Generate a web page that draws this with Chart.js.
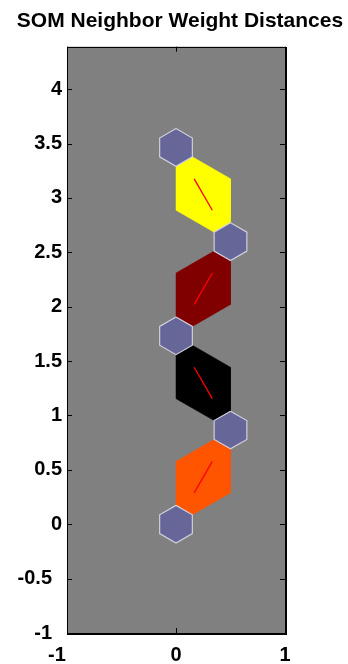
<!DOCTYPE html>
<html>
<head>
<meta charset="utf-8">
<script src="https://cdn.jsdelivr.net/npm/chart.js@4.4.0/dist/chart.umd.min.js"></script>
<style>
    html, body { margin: 0; padding: 0; background: #ffffff; }
    canvas { display: block; }
</style>
</head>
<body>
<canvas id="somChart" width="348" height="664"></canvas>
<script>
// ========================================
// SOM neighbor weight distances (hextop 1x5)
// ========================================

// neuron positions
const neuronX = [0, 0.5, 0, 0.5, 0];
const neuronY = [0, 0.866, 1.732, 2.598, 3.464];

// neighbor links and their distance colours
const linkFrom = [0, 1, 2, 3];
const linkTo = [1, 2, 3, 4];
const linkColors = ['#ff5500', '#000000', '#800000', '#ffff00'];

// axis ticks
const xTicks = [-1, 0, 1];
const yTicks = [-1, -0.5, 0, 0.5, 1, 1.5, 2, 2.5, 3, 3.5, 4];

const NEURON_R = 0.3 / Math.sqrt(3);

function polar(cx, cy, r, deg) {
    const a = deg * Math.PI / 180;
    return { x: cx + r * Math.cos(a), y: cy + r * Math.sin(a) };
}

function neuronHex(i) {
    return [90, 30, -30, -90, -150, 150, 90].map(a => polar(neuronX[i], neuronY[i], NEURON_R, a));
}

function linkPatch(i, j) {
    const dx = neuronX[j] - neuronX[i];
    const dy = neuronY[j] - neuronY[i];
    const th = Math.atan2(dy, dx) * 180 / Math.PI;
    const mx = (neuronX[i] + neuronX[j]) / 2;
    const my = (neuronY[i] + neuronY[j]) / 2;
    const side = Math.hypot(dx, dy) / 2 / Math.sqrt(3);
    const pts = [
        polar(neuronX[i], neuronY[i], NEURON_R, th - 30),
        polar(neuronX[i], neuronY[i], NEURON_R, th + 30),
        polar(mx, my, side, th + 90),
        polar(neuronX[j], neuronY[j], NEURON_R, th + 150),
        polar(neuronX[j], neuronY[j], NEURON_R, th + 210),
        polar(mx, my, side, th - 90)
    ];
    pts.push(pts[0]);
    return pts;
}

function linkLine(i, j) {
    const dx = neuronX[j] - neuronX[i];
    const dy = neuronY[j] - neuronY[i];
    return [
        { x: neuronX[i] + dx / 3, y: neuronY[i] + dy / 3 },
        { x: neuronX[i] + dx * 2 / 3, y: neuronY[i] + dy * 2 / 3 }
    ];
}

const datasets = [];

// 距離色塊
linkFrom.forEach((i, k) => {
    datasets.push({
        data: linkPatch(i, linkTo[k]),
        borderColor: linkColors[k],
        backgroundColor: linkColors[k],
        borderWidth: 0.5,
        fill: 'shape',
        pointRadius: 0,
        tension: 0,
        order: 3
    });
});

// 紅線
linkFrom.forEach((i, k) => {
    datasets.push({
        data: linkLine(i, linkTo[k]),
        borderColor: '#ff0000',
        borderWidth: 1.3,
        fill: false,
        pointRadius: 0,
        order: 2
    });
});

// 神經元
neuronX.forEach((_, i) => {
    datasets.push({
        data: neuronHex(i),
        borderColor: '#cfcfdc',
        backgroundColor: '#666699',
        borderWidth: 1.2,
        fill: 'shape',
        pointRadius: 0,
        tension: 0,
        order: 1
    });
});

const framePlugin = {
    id: 'frame',
    beforeDraw(chart) {
        const { ctx, chartArea: a } = chart;
        ctx.save();
        ctx.fillStyle = '#808080';
        ctx.fillRect(a.left, a.top, a.right - a.left, a.bottom - a.top);
        ctx.restore();
    },
    afterDraw(chart) {
        const { ctx, chartArea: a, scales } = chart;
        ctx.save();
        ctx.strokeStyle = '#000000';
        ctx.lineWidth = 1;
        ctx.beginPath();
        scales.x.ticks.forEach(t => {
            const px = Math.round(scales.x.getPixelForValue(t.value)) + 0.5;
            ctx.moveTo(px, a.bottom); ctx.lineTo(px, a.bottom - 5);
            ctx.moveTo(px, a.top); ctx.lineTo(px, a.top + 5);
        });
        scales.y.ticks.forEach(t => {
            const py = Math.round(scales.y.getPixelForValue(t.value)) + 0.5;
            ctx.moveTo(a.left, py); ctx.lineTo(a.left + 5, py);
            ctx.moveTo(a.right, py); ctx.lineTo(a.right - 5, py);
        });
        ctx.stroke();
        ctx.strokeRect(Math.round(a.left) + 0.5, Math.round(a.top) + 0.5,
            Math.round(a.right - a.left), Math.round(a.bottom - a.top));
        ctx.lineWidth = 2;
        ctx.beginPath();
        ctx.moveTo(Math.round(a.left), Math.round(a.bottom) + 1);
        ctx.lineTo(Math.round(a.right) + 2, Math.round(a.bottom) + 1);
        ctx.moveTo(Math.round(a.right) + 1, Math.round(a.top));
        ctx.lineTo(Math.round(a.right) + 1, Math.round(a.bottom) + 2);
        ctx.stroke();
        ctx.restore();
    }
};

const tickFont = { family: '"Liberation Sans", Arial, sans-serif', size: 20, weight: 'bold' };

new Chart(document.getElementById('somChart').getContext('2d'), {
    type: 'line',
    data: { datasets: datasets },
    options: {
        responsive: false,
        devicePixelRatio: 1,
        animation: false,
        layout: { padding: { left: 12, right: 0, top: 0, bottom: 0 } },
        scales: {
            x: {
                type: 'linear',
                position: 'bottom',
                min: -1,
                max: 1,
                afterBuildTicks: scale => { scale.ticks = xTicks.map(v => ({ value: v })); },
                afterFit: scale => { scale.height = 31; },
                grid: { display: false, drawTicks: false, tickLength: 0 },
                border: { display: false },
                ticks: {
                    font: tickFont,
                    color: '#000000',
                    padding: 10,
                    maxRotation: 0,
                    autoSkip: false,
                    callback: v => (v < 0 ? v + '\u2003' : String(v))
                }
            },
            y: {
                type: 'linear',
                position: 'left',
                min: -1,
                max: 4.39,
                afterBuildTicks: scale => { scale.ticks = yTicks.map(v => ({ value: v })); },
                afterFit: scale => { scale.width = 55; },
                grid: { display: false, drawTicks: false, tickLength: 0 },
                border: { display: false },
                ticks: {
                    font: tickFont,
                    color: '#000000',
                    padding: 5,
                    autoSkip: false,
                    callback: v => (v < 0 ? v + '\u2002' : String(v))
                }
            },
            y2: {
                type: 'linear',
                position: 'right',
                min: -1,
                max: 4.39,
                afterFit: scale => { scale.width = 63; },
                grid: { display: false, drawTicks: false },
                border: { display: false },
                ticks: { display: false }
            }
        },
        plugins: {
            legend: { display: false },
            tooltip: { enabled: false },
            title: {
                display: true,
                text: 'SOM Neighbor Weight Distances',
                color: '#000000',
                font: { family: '"Liberation Sans", Arial, sans-serif', size: 21, weight: 'bold' },
                padding: { top: 9, bottom: 12.5 }
            }
        }
    },
    plugins: [framePlugin]
});
</script>
</body>
</html>
